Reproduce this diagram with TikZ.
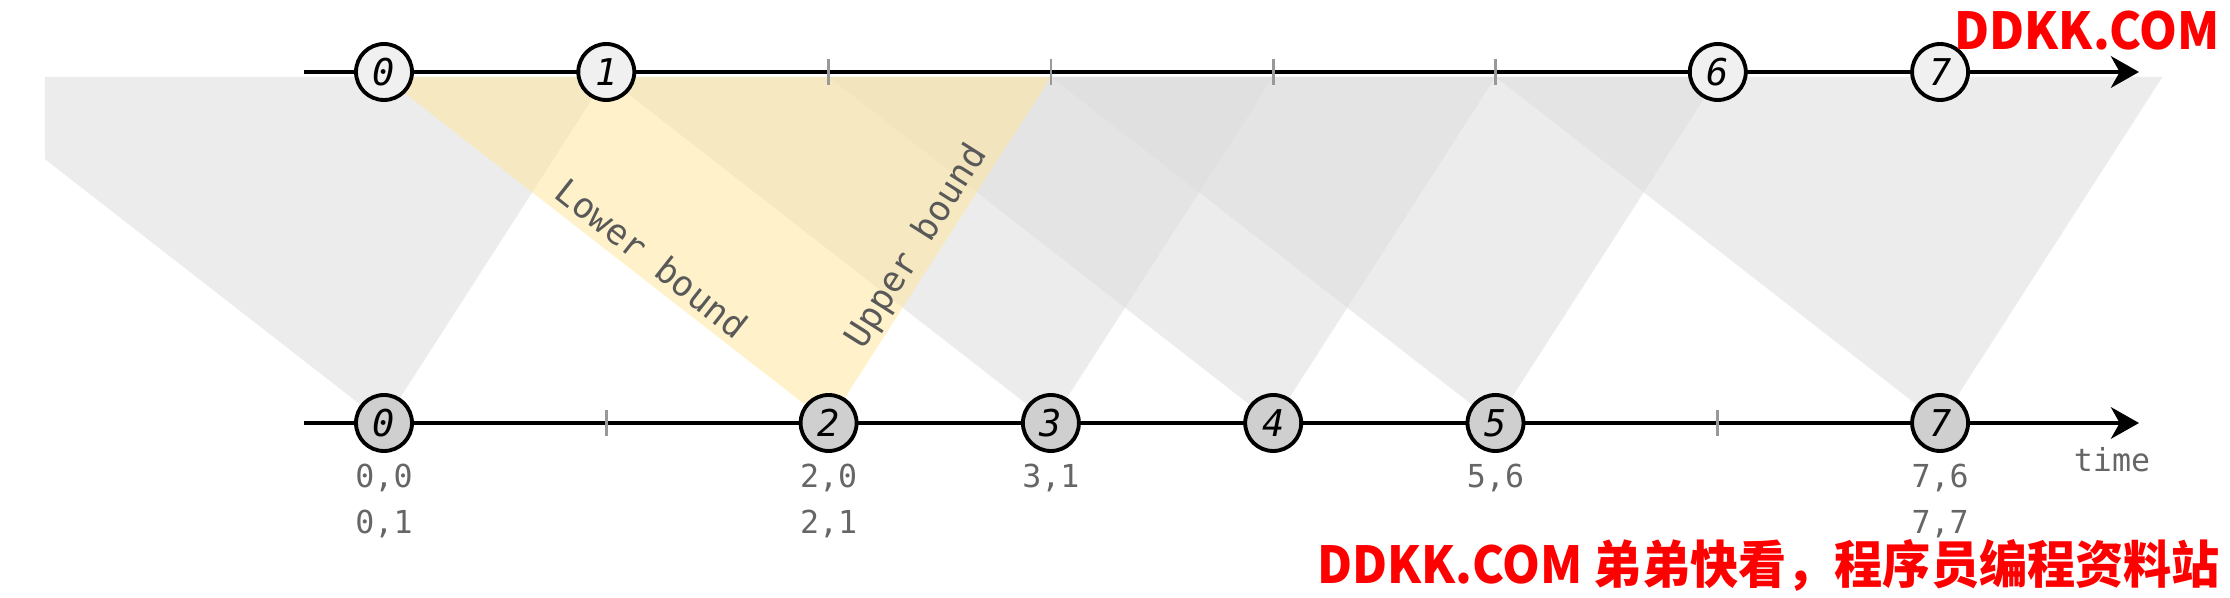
\documentclass[tikz,border=0pt]{standalone}
\usepackage{fontspec}
\setmonofont{DejaVu Sans Mono}
\newfontfamily\cjk[FakeStretch=0.945]{Noto Sans CJK SC}
\usetikzlibrary{arrows.meta}

\definecolor{amarillo}{RGB}{255,232,160}
\definecolor{gristxt}{RGB}{102,102,102}
\definecolor{cono}{RGB}{222,222,222}

\begin{document}
\begin{tikzpicture}[line width=1.1pt,>={Stealth[length=8pt,width=9pt,inset=2.5pt]},
  ev/.style={circle,draw,line width=1.1pt,minimum size=0.56cm,inner sep=0pt,font=\ttfamily\itshape\fontsize{10.5}{12}\selectfont},
  evtop/.style={ev,fill=black!6},
  evbot/.style={ev,fill=black!19},
  tic/.style={black!40,line width=0.8pt},
  lbl/.style={text=gristxt,font=\ttfamily\fontsize{9}{13}\selectfont,align=center},
  bnd/.style={text=black!65,font=\ttfamily\fontsize{10}{12}\selectfont},
  marca/.style={text=red,inner sep=0pt,font=\cjk\bfseries\fontsize{14.5}{16}\selectfont}]
  \useasboundingbox (0,0) rectangle (22.30,5.98);
  % conos de cada evento de abajo
  \begin{scope}
    \clip (0.45,0) rectangle (22.30,5.98);
    \foreach \x in {3.840,10.509,12.732,14.955,19.401}
      \fill[cono,opacity=0.58] ({\x-4.446},5.21) -- (\x,1.75) -- ({\x+2.223},5.21) -- cycle;
  \end{scope}
  \fill[amarillo,opacity=0.55] (3.840,5.21) -- (8.286,1.75) -- (10.509,5.21) -- cycle;
  % ejes
  \coordinate (arribaIni) at (3.04,5.26);
  \coordinate (arribaFin) at (21.39,5.26);
  \coordinate (abajoIni) at (3.04,1.75);
  \coordinate (abajoFin) at (21.39,1.75);
  \draw[->] (arribaIni) -- (arribaFin);
  \draw[->] (abajoIni) -- (abajoFin);
  % marcas sin evento
  \foreach \x in {8.286,10.509,12.732,14.955}
    \draw[tic] (\x,5.13) -- (\x,5.39);
  \foreach \x in {6.063,17.178}
    \draw[tic] (\x,1.62) -- (\x,1.88);
  % eventos
  \node[evtop] (t0) at (3.840,5.26) {0};
  \node[evtop] (t1) at (6.063,5.26) {1};
  \node[evtop] (t6) at (17.178,5.26) {6};
  \node[evtop] (t7) at (19.401,5.26) {7};
  \node[evbot] (b0) at (3.840,1.75) {0};
  \node[evbot] (b2) at (8.286,1.75) {2};
  \node[evbot] (b3) at (10.509,1.75) {3};
  \node[evbot] (b4) at (12.732,1.75) {4};
  \node[evbot] (b5) at (14.955,1.75) {5};
  \node[evbot] (b7) at (19.401,1.75) {7};
  % etiquetas
  \node[lbl] (l0) at (3.840,0.97) {0,0\\0,1};
  \node[lbl] (l2) at (8.286,0.97) {2,0\\2,1};
  \node[lbl] (l3) at (10.509,1.20) {3,1};
  \node[lbl] (l5) at (14.955,1.20) {5,6};
  \node[lbl] (l7) at (19.401,0.97) {7,6\\7,7};
  \node[lbl] (tiempo) at (21.12,1.38) {time};
  \node[bnd,rotate=-38.3] (inf) at (6.52,3.40) {Lower bound};
  \node[bnd,rotate=57.7] (sup) at (9.17,3.51) {Upper bound};
  % marcas de agua
  \node[marca,anchor=east] (wm1) at (22.22,5.67) {DDKK.COM};
  \node[marca,anchor=east] (wm2) at (22.22,0.33) {DDKK.COM 弟弟快看，程序员编程资料站};
\end{tikzpicture}
\end{document}
